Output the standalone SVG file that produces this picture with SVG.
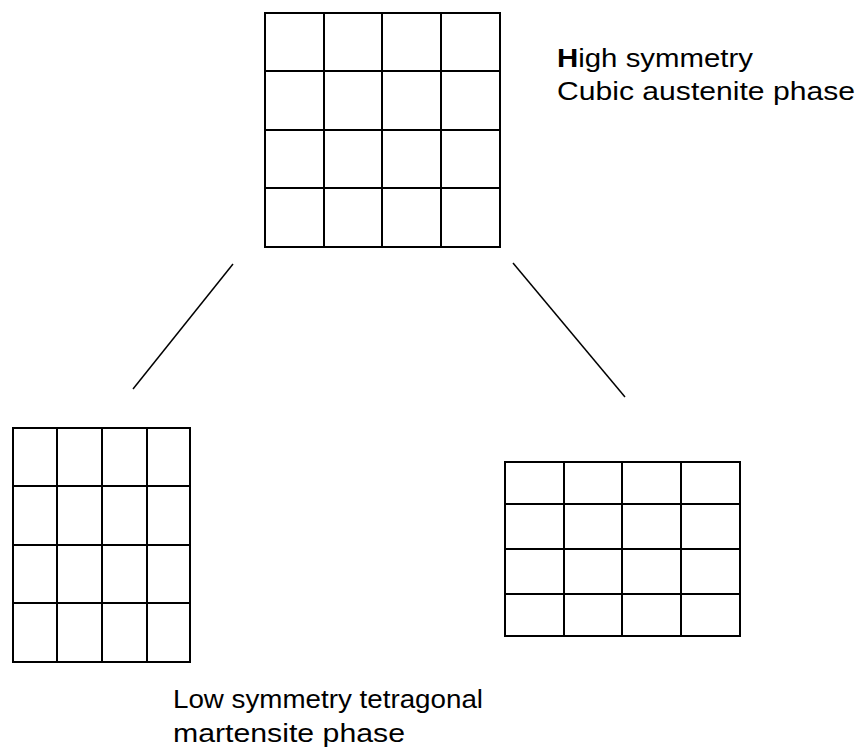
<svg xmlns="http://www.w3.org/2000/svg" width="859" height="749" viewBox="0 0 859 749">
  <style>
    .cell { fill: none; stroke: #000; stroke-width: 2; }
    .link { stroke: #000; stroke-width: 1.5; fill: none; }
    .lbl { font-family: "Liberation Sans", Arial, sans-serif; font-size: 25px; fill: #000; }
  </style>
  <rect width="859" height="749" fill="#fff"/>

  <!-- cubic austenite lattice -->
  <g id="austenite">
    <rect class="cell" x="265" y="13" width="235" height="234"/>
    <path class="cell" d="M324 13V247M382 13V247M441 13V247M265 71H500M265 130H500M265 188H500"/>
  </g>

  <!-- tetragonal martensite variant (tall) -->
  <g id="martensite-a">
    <rect class="cell" x="13" y="428" width="177" height="234"/>
    <path class="cell" d="M57 428V662M102 428V662M147 428V662M13 486H190M13 545H190M13 603H190"/>
  </g>

  <!-- tetragonal martensite variant (wide) -->
  <g id="martensite-b">
    <rect class="cell" x="505" y="462" width="235" height="174"/>
    <path class="cell" d="M564 462V636M622 462V636M681 462V636M505 504H740M505 549H740M505 594H740"/>
  </g>

  <g id="connectors">
    <line class="link" x1="233" y1="264" x2="133" y2="389"/>
    <line class="link" x1="513" y1="263" x2="625" y2="397"/>
  </g>

  <g id="label-austenite">
    <text class="lbl" x="557" y="67" textLength="196" lengthAdjust="spacingAndGlyphs"><tspan font-weight="bold">H</tspan>igh symmetry</text>
    <text class="lbl" x="557" y="100" textLength="298" lengthAdjust="spacingAndGlyphs">Cubic austenite phase</text>
  </g>

  <g id="label-martensite">
    <text class="lbl" x="173" y="708" textLength="310" lengthAdjust="spacingAndGlyphs">Low symmetry tetragonal</text>
    <text class="lbl" x="173" y="742" textLength="232" lengthAdjust="spacingAndGlyphs">martensite phase</text>
  </g>
</svg>
